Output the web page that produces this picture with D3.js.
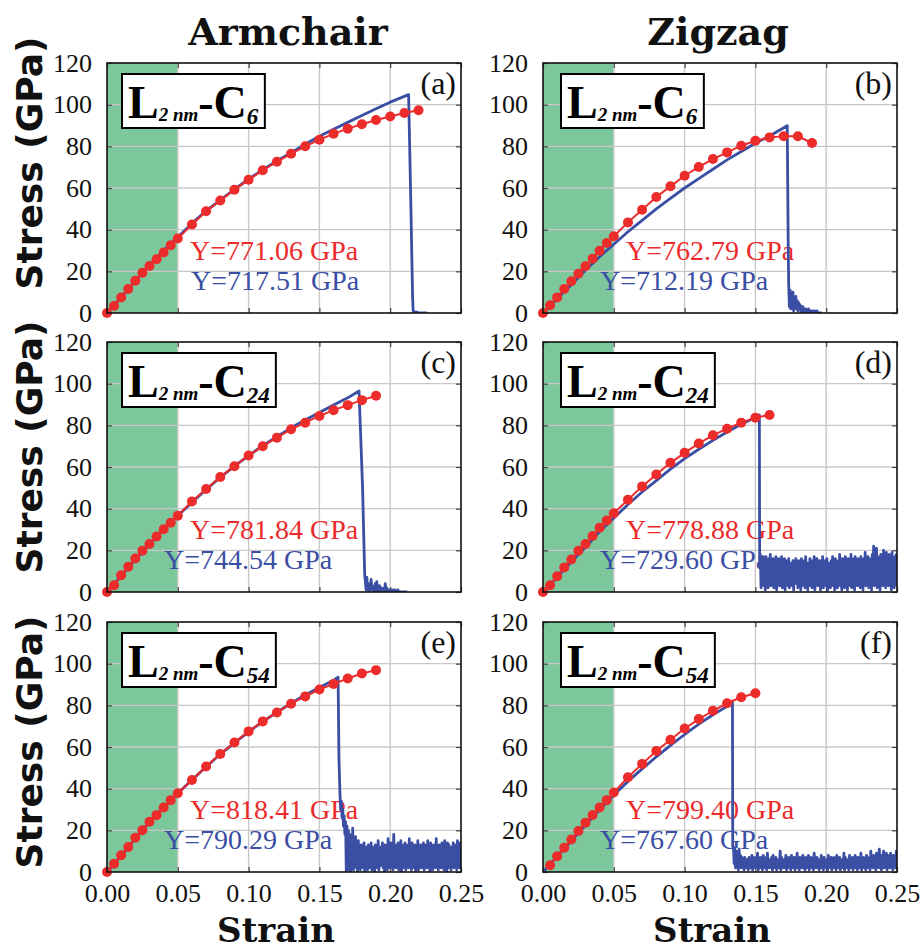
<!DOCTYPE html>
<html>
<head>
<meta charset="utf-8">
<script src="https://cdn.jsdelivr.net/npm/d3@7"></script>
<style>
body { margin: 0; background: #fff; }
</style>
</head>
<body>
<div id="graph"></div>
<script>
// ---- data ----
var columnTitles = ["Armchair", "Zigzag"];
var xTicks = [0, 0.05, 0.10, 0.15, 0.20, 0.25];
var yTicks = [0, 20, 40, 60, 80, 100, 120];
var elasticLimit = 0.05;

// strains of the red (fitted) markers
var redStrain = [0, 0.005, 0.01, 0.015, 0.02, 0.025, 0.03, 0.035, 0.04, 0.045, 0.05,
    0.06, 0.07, 0.08, 0.09, 0.10, 0.11, 0.12, 0.13, 0.14, 0.15, 0.16, 0.17, 0.18, 0.19, 0.20, 0.21, 0.22];

var redA = [0, 3.4, 7.4, 11.5, 15.5, 19.3, 22.6, 25.8, 29, 32.5, 35.8,
    42.5, 48.8, 54, 59.2, 64, 68.5, 72.6, 76.4, 80, 83.2, 86, 88.5, 90.6, 92.6, 94.3, 96, 97.3];
var redB = [0, 3.7, 7.5, 11.5, 15.2, 18.9, 22.4, 26.1, 29.9, 33.6, 36.8,
    43.5, 49.6, 55.7, 60.8, 65.9, 70.1, 73.9, 77.1, 80.3, 82.7, 84.3, 84.8, 84.8, 81.6];
var redC = [0, 3.2, 8, 12.1, 16.1, 19.8, 23, 26.6, 30.1, 33.3, 36.6,
    43.5, 49.4, 55.2, 60.4, 65.5, 70, 74.1, 78.1, 81.3, 84.5, 87.3, 89.7, 92.1, 94.2];
var redD = [0, 3.2, 7.6, 11.8, 15.6, 19.8, 23, 26.9, 30.9, 34.3, 37.8,
    44.3, 50.7, 56.4, 62, 66.8, 71.3, 75.2, 78.4, 81.3, 83.7, 85];
var redE = [0, 4, 8, 12, 16.4, 20.1, 24.1, 27.3, 31, 34.5, 37.8,
    44.2, 50.6, 56.7, 62.2, 67.5, 72.3, 76.6, 80.8, 84.3, 87.6, 90.3, 92.9, 95.3, 96.9];
var redF = [null, 3.2, 7.6, 11.6, 15.6, 19.7, 23.7, 27.4, 31, 34.5, 38.2,
    45.5, 51.9, 58.1, 63.5, 68.9, 73.4, 77.4, 81, 83.9, 85.8];

// blue (MD) curves up to fracture: [strain, stress]
var blueA = [[0,0],[0.01,7.5],[0.02,15.5],[0.03,23],[0.04,30],[0.05,36.5],[0.06,43],[0.07,49],[0.08,54.2],
    [0.09,59.4],[0.10,64.2],[0.11,68.8],[0.12,73],[0.13,77],[0.14,81],[0.15,84.8],[0.16,88.2],[0.17,91.5],
    [0.18,94.8],[0.19,98],[0.20,101.2],[0.213,104.8],[0.2145,55],[0.2158,8],[0.2162,1]];
var blueB = [[0,0],[0.01,6.8],[0.02,13.5],[0.03,20.5],[0.04,27],[0.05,33],[0.06,39],[0.07,44.5],[0.08,50],
    [0.09,55],[0.10,60],[0.11,64.5],[0.12,69],[0.13,73.5],[0.14,77.5],[0.15,81.5],[0.16,85],[0.1725,89.9],[0.1732,30]];
var blueC = [[0,0],[0.01,7.6],[0.02,15.5],[0.03,22.8],[0.04,30],[0.05,36.6],[0.06,43],[0.07,49.2],[0.08,55],
    [0.09,60.4],[0.10,65.5],[0.11,70.2],[0.12,74.6],[0.13,78.8],[0.14,82.6],[0.15,86.2],[0.16,89.8],[0.17,93.2],
    [0.178,96.5],[0.1805,50],[0.182,8]];
var blueD = [[0,0],[0.01,7],[0.02,14.5],[0.03,21.5],[0.04,29],[0.05,35.5],[0.06,42],[0.07,48],[0.08,53.5],
    [0.09,59],[0.10,64],[0.11,68.5],[0.12,72.8],[0.13,76.8],[0.14,80.5],[0.15,83.8],[0.1528,85],[0.153,12]];
var blueE = [[0,0],[0.01,7.8],[0.02,16],[0.03,24],[0.04,31],[0.05,37.8],[0.06,44.2],[0.07,50.5],[0.08,56.5],
    [0.09,62],[0.10,67.3],[0.11,72.2],[0.12,76.7],[0.13,81],[0.14,85],[0.15,88.6],[0.16,92],[0.1632,93.5],[0.1638,55]];
var blueF = [[0,0],[0.01,7.5],[0.02,15],[0.03,22.5],[0.04,30],[0.05,37],[0.06,43.5],[0.07,49.5],[0.08,55.3],
    [0.09,60.8],[0.10,66],[0.11,71],[0.12,75.5],[0.13,79.5],[0.1338,81.3],[0.134,12]];

// post-fracture fluctuations, one value every 0.0005 strain
var noiseStep = 0.0005;
var noiseA = [1,0,0.5,0,0,0.5,0,0,0,0,0,0,0,0,0,0,0,0,0,0];
var noiseB = [14,3,11,2,9,4,10,1,7,3,8,2,6,1,5,2,4,1,3,0,3,1,2,0,2,1,1,0,2,0,1,0,1,0,1,0,0,1,0,0,1,0,0,0,0,0,0,0];
var noiseC = [5,1,7,2,4,0,3,1,6,2,3,0,2,1,4,0,5,1,2,0,3,1,2,0,1,0,2,0,4,1,2,0,1,0,1,0,1,0,0,1,
    0,0,1,0,0,0,1,0,0,0,0,0,0,0,0,0,0,0,0,0];
var noiseD = [18,2,16,5,17,3,15,1,17,6,14,2,16,4,18,3,15,7,16,2,
    13,4,17,1,15,6,16,3,14,5,17,2,12,4,16,1,15,6,13,3,
    16,2,14,5,11,3,15,1,13,6,16,4,12,2,15,5,14,1,16,3,
    13,6,15,2,17,4,12,1,14,5,16,3,15,2,13,6,17,1,14,4,
    16,3,12,5,15,1,14,6,17,2,13,4,15,3,16,1,14,5,12,2,
    15,6,17,3,14,1,16,4,13,2,15,5,18,3,14,1,16,6,15,2,
    17,4,14,1,16,5,15,3,18,2,14,6,16,1,17,4,15,3,16,5,
    14,2,17,6,15,1,16,4,19,3,15,5,17,2,16,6,14,1,18,4,
    22,3,16,5,21,2,17,6,15,1,18,4,16,3,20,5,17,2,19,6,
    16,3,18,5,17,1,19,4,16,2,17,5,18,3,16];
var noiseE = [38,30,34,26,30,22,27,18,24,0,22,1,20,3,18,0,16,2,21,1,
    14,3,17,2,12,0,15,4,11,1,13,3,10,2,14,0,12,4,9,1,
    13,2,11,5,14,1,12,3,10,0,13,4,11,2,15,1,12,3,10,5,
    14,2,11,0,13,4,12,1,16,3,11,2,14,5,12,1,18,3,13,2,
    11,4,14,1,12,3,15,0,13,2,11,4,14,1,12,5,13,2,16,3,
    12,1,14,4,11,2,13,0,12,3,15,1,11,4,13,2,12,5,14,1,
    11,3,13,2,15,4,12,0,14,3,11,1,13,5,12,2,16,4,11,1,
    13,3,12,2,14,4,11,1,15,3,12,0,14,2,13,4,11,1,
    12,3,14,2,13,5,11,1,15,3,12,2,14,4];
var noiseF = [12,4,11,2,10,5,9,1,11,3,8,2,7,4,6,1,7,3,5,2,
    6,1,7,3,5,2,8,1,6,4,7,2,5,3,9,1,6,2,7,4,
    5,1,8,3,6,2,7,1,9,4,6,2,5,3,7,1,8,2,6,4,
    7,1,5,3,6,2,10,1,7,4,5,2,6,3,8,1,5,2,7,3,
    6,1,8,4,5,2,7,1,6,3,9,2,5,1,7,4,6,2,8,3,
    5,1,7,2,6,4,8,1,5,3,7,2,6,1,9,3,5,2,7,4,
    6,1,5,2,8,3,6,1,7,4,5,2,6,1,8,3,5,2,7,1,
    6,3,7,2,5,1,8,4,6,2,7,1,5,3,6,2,9,1,7,4,
    5,2,6,1,8,3,5,2,7,1,6,4,8,2,5,1,7,3,6,2,
    9,1,6,3,7,2,5,1,8,4,6,2,7,1,10,3,6,2,8,4,
    7,1,9,3,6,2,11,4,7,1,8,3,10,2,7,4,9,1,8,3,
    7,2,9,4,6,1,8,3,7,2,10,4];

var panels = [
  {tag: "(a)", col: 0, row: 0, sub: "6",  red: redA, blue: blueA, noise: noiseA, noiseStart: 0.2165,
   yRed: "Y=771.06 GPa", yBlue: "Y=717.51 GPa", blueDx: 84},
  {tag: "(b)", col: 1, row: 0, sub: "6",  red: redB, blue: blueB, noise: noiseB, noiseStart: 0.1735,
   yRed: "Y=762.79 GPa", yBlue: "Y=712.19 GPa", blueDx: 57},
  {tag: "(c)", col: 0, row: 1, sub: "24", red: redC, blue: blueC, noise: noiseC, noiseStart: 0.1825,
   yRed: "Y=781.84 GPa", yBlue: "Y=744.54 GPa", blueDx: 57},
  {tag: "(d)", col: 1, row: 1, sub: "24", red: redD, blue: blueD, noise: noiseD, noiseStart: 0.1535,
   yRed: "Y=778.88 GPa", yBlue: "Y=729.60 GPa", blueDx: 57},
  {tag: "(e)", col: 0, row: 2, sub: "54", red: redE, blue: blueE, noise: noiseE, noiseStart: 0.1645,
   yRed: "Y=818.41 GPa", yBlue: "Y=790.29 GPa", blueDx: 57},
  {tag: "(f)", col: 1, row: 2, sub: "54", red: redF, blue: blueF, noise: noiseF, noiseStart: 0.1345,
   yRed: "Y=799.40 GPa", yBlue: "Y=767.60 GPa", blueDx: 57}
];

// ---- layout ----
var W = 924, H = 951;
var plotW = 354, plotH = 250;
var colLeft = [107, 543];
var rowTop = [63, 342, 622];
var yLabelMid = [163, 447, 742];

var RED = "#ec2b2b", BLUE = "#3a4ea4", GREEN = "#7cc79b", GRID = "#c8c8c8";
var serif = "'Liberation Serif', 'Times New Roman', serif";

var svg = d3.select("#graph")
    .append("svg")
        .attr("width", W)
        .attr("height", H)
        .style("background", "#fff");

var defs = svg.append("defs");

panels.forEach(function(p, i) {
    var left = colLeft[p.col], top = rowTop[p.row];

    var x = d3.scaleLinear().domain([0, 0.25]).range([0, plotW]);
    var y = d3.scaleLinear().domain([0, 120]).range([plotH, 0]);

    var g = svg.append("g")
        .attr("transform", "translate(" + left + "," + top + ")");

    defs.append("clipPath").attr("id", "clip" + i)
        .append("rect").attr("width", plotW).attr("height", plotH);

    // elastic region band
    g.append("rect")
        .attr("x", x(0))
        .attr("width", x(elasticLimit) - x(0))
        .attr("height", plotH)
        .style("fill", GREEN);

    // grid
    g.selectAll(".vgrid").data(xTicks.slice(1, -1)).enter().append("line")
        .attr("x1", function(d) { return x(d); })
        .attr("x2", function(d) { return x(d); })
        .attr("y1", 0).attr("y2", plotH)
        .style("stroke", GRID).style("stroke-width", 1.4);
    g.selectAll(".hgrid").data(yTicks.slice(1, -1)).enter().append("line")
        .attr("y1", function(d) { return y(d); })
        .attr("y2", function(d) { return y(d); })
        .attr("x1", 0).attr("x2", plotW)
        .style("stroke", GRID).style("stroke-width", 1.4);

    // axes: inner ticks on all sides, labels left (and bottom on last row)
    var yAxis = g.append("g").call(d3.axisLeft(y).tickValues(yTicks).tickSize(-5).tickPadding(15));
    var yAxisR = g.append("g").attr("transform", "translate(" + plotW + ",0)")
        .call(d3.axisRight(y).tickValues(yTicks).tickSize(-5).tickFormat(""));
    var xAxisT = g.append("g").call(d3.axisTop(x).tickValues(xTicks).tickSize(-5).tickFormat(""));
    var xAxis = g.append("g").attr("transform", "translate(0," + plotH + ")")
        .call(d3.axisBottom(x).tickValues(xTicks).tickSize(-5).tickPadding(12)
            .tickFormat(p.row === 2 ? d3.format(".2f") : ""));

    [yAxis, yAxisR, xAxisT, xAxis].forEach(function(a) {
        a.select(".domain").remove();
        a.selectAll(".tick line").style("stroke", "#444").style("stroke-width", 1.2);
        a.selectAll("text")
            .style("font-family", serif)
            .style("font-size", "26px")
            .style("fill", "#111");
    });

    // modulus annotations (under the curves)
    g.append("text")
        .attr("x", 83).attr("y", 197)
        .style("font-family", serif).style("font-size", "28px").style("fill", RED)
        .text(p.yRed);
    g.append("text")
        .attr("x", p.blueDx).attr("y", 227)
        .style("font-family", serif).style("font-size", "28px").style("fill", BLUE)
        .text(p.yBlue);

    var valueline = d3.line()
        .x(function(d) { return x(d[0]); })
        .y(function(d) { return y(d[1]); });

    var curves = g.append("g").attr("clip-path", "url(#clip" + i + ")");

    // blue MD curve + post-fracture noise
    var noisePts = p.noise.map(function(v, k) { return [p.noiseStart + k * noiseStep, v]; });
    curves.append("path")
        .datum(p.blue.concat(noisePts))
        .attr("d", valueline)
        .style("fill", "none")
        .style("stroke", BLUE)
        .style("stroke-width", 2.8)
        .style("stroke-linejoin", "round");

    // red fitted curve with markers
    var redPts = [];
    p.red.forEach(function(v, k) { if (v !== null) redPts.push([redStrain[k], v]); });
    curves.append("path")
        .datum(redPts)
        .attr("d", valueline)
        .style("fill", "none")
        .style("stroke", RED)
        .style("stroke-width", 2);
    g.selectAll(".dot").data(redPts).enter().append("circle")
        .attr("cx", function(d) { return x(d[0]); })
        .attr("cy", function(d) { return y(d[1]); })
        .attr("r", 5)
        .style("fill", RED);

    // frame
    g.append("rect")
        .attr("width", plotW).attr("height", plotH)
        .style("fill", "none").style("stroke", "#111").style("stroke-width", 1.6);

    // panel tag
    g.append("text")
        .attr("x", plotW - 5).attr("y", 31)
        .attr("text-anchor", "end")
        .style("font-family", serif).style("font-size", "32px").style("fill", "#111")
        .text(p.tag);

    // structure label box
    var boxX = p.col === 0 ? 15 : 18, boxY = 11;
    var lab = g.append("g");
    var box = lab.append("rect");
    var t = lab.append("text")
        .attr("x", boxX + 6).attr("y", boxY + 44)
        .style("font-family", serif).style("font-weight", "bold").style("fill", "#000");
    t.append("tspan").style("font-size", "46px").text("L");
    t.append("tspan").style("font-size", "19px").style("font-style", "italic")
        .attr("dy", 3).text("2 nm");
    t.append("tspan").style("font-size", "46px").attr("dy", -3).text("-C");
    t.append("tspan").style("font-size", "23px").style("font-style", "italic")
        .attr("dy", 6).text(p.sub);
    var bb = t.node().getBBox();
    box.attr("x", boxX).attr("y", boxY)
        .attr("width", bb.width + 12).attr("height", 54)
        .style("fill", "#fff").style("stroke", "#000").style("stroke-width", 2);
});

// y labels
rowTop.forEach(function(top, r) {
    svg.append("text")
        .attr("transform", "translate(42," + yLabelMid[r] + ") rotate(-90)")
        .attr("text-anchor", "middle")
        .style("font-family", "'DejaVu Sans', sans-serif")
        .style("font-weight", "bold")
        .style("font-size", "36px")
        .style("fill", "#111")
        .text("Stress (GPa)");
});

// column titles and x labels
colLeft.forEach(function(left, c) {
    svg.append("text")
        .attr("x", left + plotW / 2 + (c === 0 ? 4 : -2))
        .attr("y", 45)
        .attr("text-anchor", "middle")
        .style("font-family", "'DejaVu Serif', serif")
        .style("font-weight", "bold")
        .style("font-size", "38px")
        .style("fill", "#111")
        .text(columnTitles[c]);
    svg.append("text")
        .attr("x", left + plotW / 2 - 8)
        .attr("y", 942)
        .attr("text-anchor", "middle")
        .style("font-family", "'DejaVu Serif', serif")
        .style("font-weight", "bold")
        .style("font-size", "34px")
        .style("fill", "#111")
        .text("Strain");
});
</script>
</body>
</html>
